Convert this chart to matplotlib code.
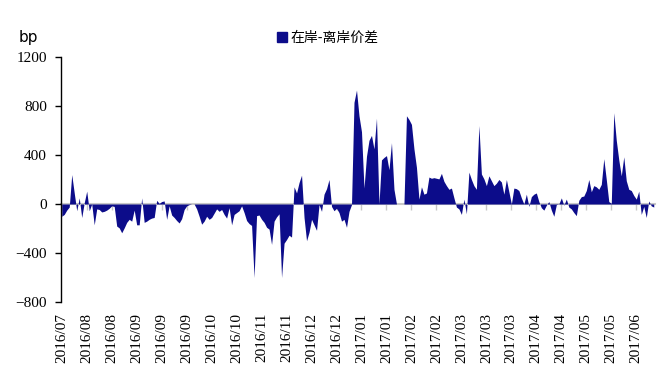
import numpy as np
import matplotlib
matplotlib.use("Agg")
from matplotlib import pyplot as plt
from matplotlib.patches import Patch

# 在岸-离岸价差 (bp), one value per trading day
spread = [
    -100, -85, -50, -25, 240, 90, -55, 50, -110, 10,
    105, -55, 0, -170, -40, -45, -65, -60, -50, -35,
    -15, -20, -180, -195, -235, -195, -150, -125, -140, -50,
    -170, -170, 50, -150, -140, -125, -115, -110, 30, 5,
    20, 25, -125, -15, -90, -110, -135, -155, -120, -45,
    -15, -5, 0, 0, -40, -100, -165, -140, -100, -125,
    -110, -75, -40, -60, -45, -85, -115, -30, -170, -85,
    -70, -55, -15, -70, -135, -160, -175, -600, -95, -90,
    -125, -150, -190, -205, -330, -140, -105, -80, -600, -320,
    -290, -255, -270, 140, 90, 175, 235, -110, -300, -230,
    -125, -170, -215, -5, -60, 80, 125, 200, -20, -55,
    -35, -70, -140, -125, -190, -60, -5, 830, 930, 720,
    590, 130, 390, 520, 560, 450, 700, 0, 360, 380,
    395, 280, 500, 120, 0, 0, 0, 0, 720, 690,
    650, 450, 300, 40, 140, 80, 90, 220, 210, 215,
    210, 205, 250, 185, 150, 120, 130, 50, -25, -40,
    -85, 40, -80, 260, 200, 150, 120, 640, 245, 205,
    150, 230, 190, 150, 170, 200, 180, 80, 200, 100,
    0, 130, 125, 110, 50, 0, 80, -20, 60, 80,
    90, 20, -30, -50, -10, 20, -50, -100, -5, 0,
    50, -10, 40, -25, -40, -70, -95, 30, 60, 65,
    110, 200, 100, 150, 140, 120, 160, 370, 200, 20,
    5, 745, 520, 360, 230, 385, 190, 120, 110, 70,
    40, 105, -85, -20, -110, 25, -15, -25,
]

tick_labels = [
    "2016/07", "2016/08", "2016/08", "2016/09", "2016/09", "2016/09",
    "2016/10", "2016/10", "2016/11", "2016/11", "2016/12", "2016/12",
    "2017/01", "2017/01", "2017/02", "2017/02", "2017/03", "2017/03",
    "2017/03", "2017/04", "2017/04", "2017/05", "2017/05", "2017/06",
]
tick_step = 10

navy = "#0c0c8a"
serif = "Liberation Serif"

fig = plt.figure(figsize=(6.64, 3.76), dpi=100)
ax = fig.add_axes([61 / 664, 74 / 376, 594 / 664, 245 / 376])

x = np.arange(len(spread))
ax.fill_between(x, spread, 0, color=navy, linewidth=0, zorder=2)

ax.set_xlim(-0.3, 237.5)
ax.set_ylim(-800, 1200)
ax.set_yticks(range(-800, 1201, 400))
ax.tick_params(axis="y", direction="out", length=4, width=1, color="black", pad=6)
for lab in ax.get_yticklabels():
    lab.set_fontfamily(serif)
    lab.set_fontsize(11)

tick_pos = [i * tick_step for i in range(len(tick_labels))]
ax.set_xticks(tick_pos)
ax.set_xticklabels(tick_labels, rotation=90, fontfamily=serif, fontsize=11)
ax.tick_params(axis="x", length=0, pad=8)

for side in ["top", "right", "bottom"]:
    ax.spines[side].set_visible(False)
ax.spines["left"].set_linewidth(1)

# gray axis line at zero with small tick marks
zero_ax = ax.secondary_xaxis(0.4)
zero_ax.set_xticks(tick_pos)
zero_ax.set_xticklabels([])
zero_ax.tick_params(direction="out", length=4, width=1, color="#c8c8c8")
zero_ax.spines["bottom"].set_color("#c8c8c8")
zero_ax.spines["bottom"].set_linewidth(1.5)
zero_ax.spines["bottom"].set_zorder(3)

fig.text(0.042, 0.90, "bp", fontsize=11, family="DejaVu Sans", ha="center", va="center")

handle = Patch(facecolor=navy, edgecolor=navy)
fig.legend([handle], ["在岸-离岸价差"], loc="center", bbox_to_anchor=(0.494, 0.90),
           frameon=False, handlelength=0.7, handleheight=0.7, handletextpad=0.3,
           prop={"family": ["Noto Sans CJK SC", "DejaVu Sans"], "size": 10})

fig.savefig("out.png", dpi=100)
